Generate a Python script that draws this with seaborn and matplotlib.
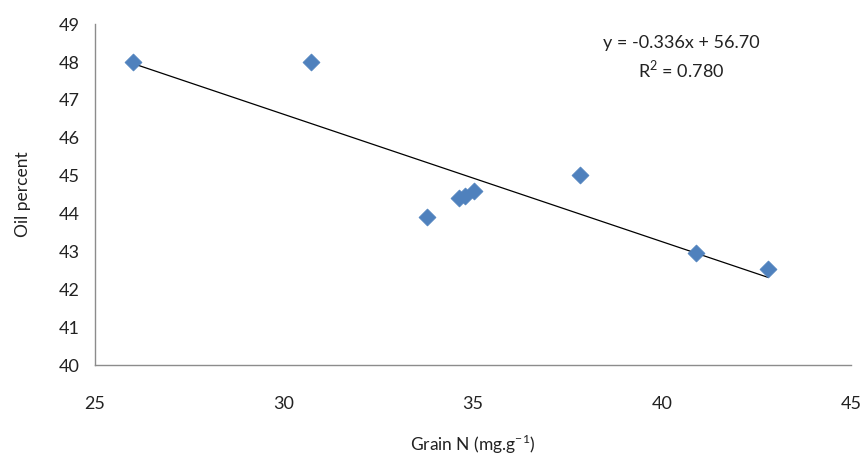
import numpy as np
import pandas as pd
import seaborn as sns
import matplotlib.pyplot as plt

# values
grain_n = [26.0, 30.72, 33.78, 34.63, 34.79, 35.03, 37.84, 40.89, 42.80]
oil_pct = [48.0, 48.0, 43.92, 44.40, 44.46, 44.60, 45.01, 42.95, 42.55]
slope, intercept = -0.336, 56.70
eq_text = "y = -0.336x + 56.70"
r2_text = "R$^2$ = 0.780"

df = pd.DataFrame({"grain_n": grain_n, "oil": oil_pct})

sns.set_style("white")
plt.rcParams['font.family'] = ['Lato', 'DejaVu Sans']
plt.rcParams['mathtext.fontset'] = 'custom'
plt.rcParams['mathtext.rm'] = 'Lato'
plt.rcParams['axes.unicode_minus'] = False

fig = plt.figure(figsize=(8.63, 4.57), dpi=100)
ax = fig.add_axes([0.110, 0.201, 0.876, 0.746])

# trendline over data range
xs = np.array([min(grain_n), max(grain_n)])
ax.plot(xs, slope * xs + intercept, color="black", lw=0.9, zorder=2)

sns.scatterplot(data=df, x="grain_n", y="oil", marker="D", s=75,
                color="#4F81BD", edgecolor="#4F81BD", linewidth=0.5, ax=ax, zorder=3)

ax.set_xlim(25, 45)
ax.set_ylim(40, 49)
ax.set_xticks(range(25, 46, 5))
ax.set_yticks(range(40, 50))

for side in ["top", "right"]:
    ax.spines[side].set_visible(False)
for side in ["left", "bottom"]:
    ax.spines[side].set_color("#8c8c8c")
    ax.spines[side].set_linewidth(1.0)

ax.tick_params(axis="both", which="major", direction="out", length=6, width=1,
               color="#8c8c8c", labelsize=13, labelcolor="#222222")
ax.tick_params(axis="x", pad=16)
ax.tick_params(axis="y", pad=5)

ax.set_xlabel("Grain N (mg.g$^{\\mathregular{-1}}$)", fontsize=12.5, color="#222222", labelpad=15)
ax.set_ylabel("Oil percent", fontsize=12.5, color="#222222", labelpad=20)

ax.text(40.5, 48.5, eq_text, ha="center", va="center", fontsize=13, color="#222222")
ax.text(40.5, 47.82, r2_text, ha="center", va="center", fontsize=13, color="#222222")

fig.savefig("out.png", dpi=100)
